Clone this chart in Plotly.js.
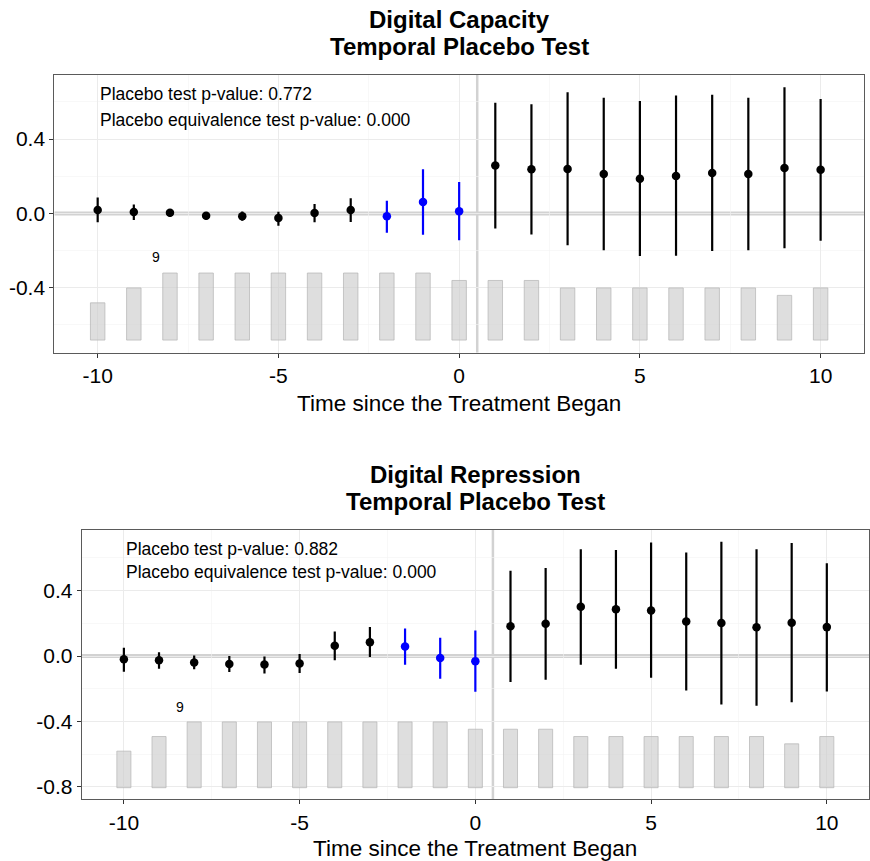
<!DOCTYPE html>
<html>
<head>
<meta charset="utf-8">
<script src="https://cdn.plot.ly/plotly-3.0.1.min.js"></script>
<style>html,body{margin:0;padding:0;background:#fff;}#chart{width:870px;height:861px;}</style>
</head>
<body>
<div id="chart"></div>
<script>
// ---------- data ----------
const periods = [-10,-9,-8,-7,-6,-5,-4,-3,-2,-1,0,1,2,3,4,5,6,7,8,9,10];
const placeboPeriods = [-2,-1,0];
const treatedCounts = [5,7,9,9,9,9,9,9,9,9,8,8,8,7,7,7,7,7,7,6,7];

const capEst = [0.018,0.007,0.003,-0.013,-0.015,-0.025,0.002,0.018,-0.016,0.061,0.012,0.258,0.237,0.239,0.212,0.186,0.201,0.217,0.212,0.244,0.235];
const capLo  = [-0.048,-0.036,-0.018,-0.034,-0.040,-0.067,-0.048,-0.047,-0.104,-0.115,-0.145,-0.081,-0.113,-0.172,-0.198,-0.230,-0.228,-0.203,-0.199,-0.188,-0.147];
const capHi  = [0.086,0.048,0.021,0.005,0.010,0.009,0.050,0.082,0.068,0.237,0.169,0.596,0.587,0.652,0.623,0.605,0.635,0.639,0.623,0.679,0.616];

const repEst = [-0.020,-0.026,-0.039,-0.049,-0.051,-0.045,0.063,0.084,0.059,-0.012,-0.031,0.183,0.198,0.302,0.286,0.279,0.212,0.202,0.176,0.204,0.177];
const repLo  = [-0.096,-0.078,-0.081,-0.098,-0.106,-0.104,-0.026,-0.006,-0.053,-0.139,-0.218,-0.159,-0.145,-0.053,-0.078,-0.133,-0.210,-0.296,-0.304,-0.283,-0.216];
const repHi  = [0.051,0.023,0.004,0.000,-0.002,0.012,0.151,0.177,0.169,0.112,0.157,0.522,0.538,0.654,0.648,0.695,0.634,0.699,0.653,0.691,0.567];

const titlesTop = ["Digital Capacity", "Temporal Placebo Test"];
const titlesBottom = ["Digital Repression", "Temporal Placebo Test"];
const pTextTop = ["Placebo test p-value: 0.772", "Placebo equivalence test p-value: 0.000"];
const pTextBottom = ["Placebo test p-value: 0.882", "Placebo equivalence test p-value: 0.000"];
const xTitle = "Time since the Treatment Began";
const xTickVals = [-10,-5,0,5,10];
const xTickText = ["-10","-5","0","5","10"];
const yTickValsTop = [-0.4,0,0.4];
const yTickTextTop = ["-0.4","0.0","0.4"];
const yTickValsBottom = [-0.8,-0.4,0,0.4];
const yTickTextBottom = ["-0.8","-0.4","0.0","0.4"];
const treatStart = 0.5;

// ---------- style ----------
const FONT = "Liberation Sans, Arial, Helvetica, sans-serif";
const BLUE = "#0000ff";

function panelTraces(est, lo, hi, xa, ya, barBase, barUnit) {
  const traces = [];
  traces.push({
    type: "bar", x: periods, y: treatedCounts.map(c => c * barUnit), base: barBase,
    width: 0.4, xaxis: xa, yaxis: ya, hoverinfo: "skip",
    marker: {color: "rgba(205,205,205,0.65)", line: {color: "#b3b3b3", width: 0.7}}
  });
  const groups = [
    {f: p => p < placeboPeriods[0], color: "#000000"},
    {f: p => placeboPeriods.includes(p), color: BLUE},
    {f: p => p > placeboPeriods[placeboPeriods.length - 1], color: "#000000"}
  ];
  groups.forEach(g => {
    const idx = periods.map((p, i) => i).filter(i => g.f(periods[i]));
    traces.push({
      type: "scatter", mode: "markers", xaxis: xa, yaxis: ya,
      x: idx.map(i => periods[i]), y: idx.map(i => est[i]),
      marker: {color: g.color, size: 8.5},
      error_y: {type: "data", symmetric: false,
        array: idx.map(i => hi[i] - est[i]), arrayminus: idx.map(i => est[i] - lo[i]),
        color: g.color, thickness: 2.2, width: 0}
    });
  });
  return traces;
}

const data = [
  ...panelTraces(capEst, capLo, capHi, "x", "y", -0.682, 0.0401),
  ...panelTraces(repEst, repLo, repHi, "x2", "y2", -0.805, 0.0447)
];

function xAxis(domain, anchor) {
  return {
    domain: domain, anchor: anchor, range: [-11.2, 11.2],
    tickmode: "array", tickvals: xTickVals, ticktext: xTickText,
    ticks: "outside", ticklen: 4, tickcolor: "#333", tickwidth: 1,
    tickfont: {family: FONT, size: 21, color: "#000"},
    showgrid: true, gridcolor: "#ebebeb", gridwidth: 1.1,
    minor: {tickmode: "linear", tick0: 0, dtick: 2.5, showgrid: true, gridcolor: "#f4f4f4", gridwidth: 0.6, ticks: ""},
    showline: true, mirror: true, linecolor: "#5a5a5a", linewidth: 1,
    zeroline: false, fixedrange: true
  };
}
function yAxis(domain, anchor, range, tv, tt) {
  return {
    domain: domain, anchor: anchor, range: range,
    tickmode: "array", tickvals: tv, ticktext: tt,
    ticks: "outside", ticklen: 4, tickcolor: "#333", tickwidth: 1,
    tickfont: {family: FONT, size: 21, color: "#000"},
    showgrid: true, gridcolor: "#ebebeb", gridwidth: 1.1,
    minor: {tickmode: "linear", tick0: 0, dtick: 0.2, showgrid: true, gridcolor: "#f4f4f4", gridwidth: 0.6, ticks: ""},
    showline: true, mirror: true, linecolor: "#5a5a5a", linewidth: 1,
    zeroline: false, fixedrange: true
  };
}

function refShapes(xa, ya, xr, yr) {
  return [
    {type: "line", xref: xa, yref: ya, x0: xr[0], x1: xr[1], y0: 0, y1: 0,
     line: {color: "#d2d2d2", width: 4}, layer: "below"},
    {type: "line", xref: xa, yref: ya, x0: treatStart, x1: treatStart, y0: yr[0], y1: yr[1],
     line: {color: "#d2d2d2", width: 2.5}, layer: "below"}
  ];
}

function txt(text, x, y, xref, yref, size, bold, xanchor) {
  return {text: bold ? "<b>" + text + "</b>" : text, x: x, y: y, xref: xref, yref: yref,
    showarrow: false, xanchor: xanchor || "center", yanchor: "middle",
    font: {family: FONT, size: size, color: "#000"}};
}

const H = 861, W = 870;
const xRange = [-11.2, 11.2];
const yRangeTop = [-0.75, 0.745];
const yRangeBottom = [-0.876, 0.771];
const annotations = [
  txt(titlesTop[0], 459 / W, 1 - 19 / H, "paper", "paper", 24, true),
  txt(titlesTop[1], 459 / W, 1 - 46 / H, "paper", "paper", 24, true),
  txt(titlesBottom[0], 475 / W, 1 - 474 / H, "paper", "paper", 24, true),
  txt(titlesBottom[1], 475 / W, 1 - 501 / H, "paper", "paper", 24, true),
  txt(xTitle, 459 / W, 1 - 404 / H, "paper", "paper", 22.5, false),
  txt(xTitle, 475 / W, 1 - 848 / H, "paper", "paper", 22.5, false),
  txt(pTextTop[0], -10, 0.641, "x", "y", 17.5, false, "left"),
  txt(pTextTop[1], -10, 0.502, "x", "y", 17.5, false, "left"),
  txt(pTextBottom[0], -10, 0.653, "x2", "y2", 17.5, false, "left"),
  txt(pTextBottom[1], -10, 0.512, "x2", "y2", 17.5, false, "left"),
  txt(String(Math.max(...treatedCounts)), -8.4, -0.234, "x", "y", 14, false),
  txt(String(Math.max(...treatedCounts)), -8.4, -0.31, "x2", "y2", 14, false)
];

const layout = {
  width: W, height: H, autosize: false,
  margin: {l: 0, r: 0, t: 0, b: 0},
  paper_bgcolor: "#fff", plot_bgcolor: "#fff",
  showlegend: false, barmode: "overlay",
  font: {family: FONT, color: "#000"},
  xaxis: xAxis([54.3 / W, 864 / W], "y"),
  yaxis: yAxis([1 - 352.7 / H, 1 - 75 / H], "x", yRangeTop, yTickValsTop, yTickTextTop),
  xaxis2: xAxis([81.7 / W, 869 / W], "y2"),
  yaxis2: yAxis([1 - 799.3 / H, 1 - 530 / H], "x2", yRangeBottom, yTickValsBottom, yTickTextBottom),
  shapes: [...refShapes("x", "y", xRange, yRangeTop), ...refShapes("x2", "y2", xRange, yRangeBottom)],
  annotations: annotations
};

Plotly.newPlot("chart", data, layout, {staticPlot: true, displayModeBar: false});
</script>
</body>
</html>
